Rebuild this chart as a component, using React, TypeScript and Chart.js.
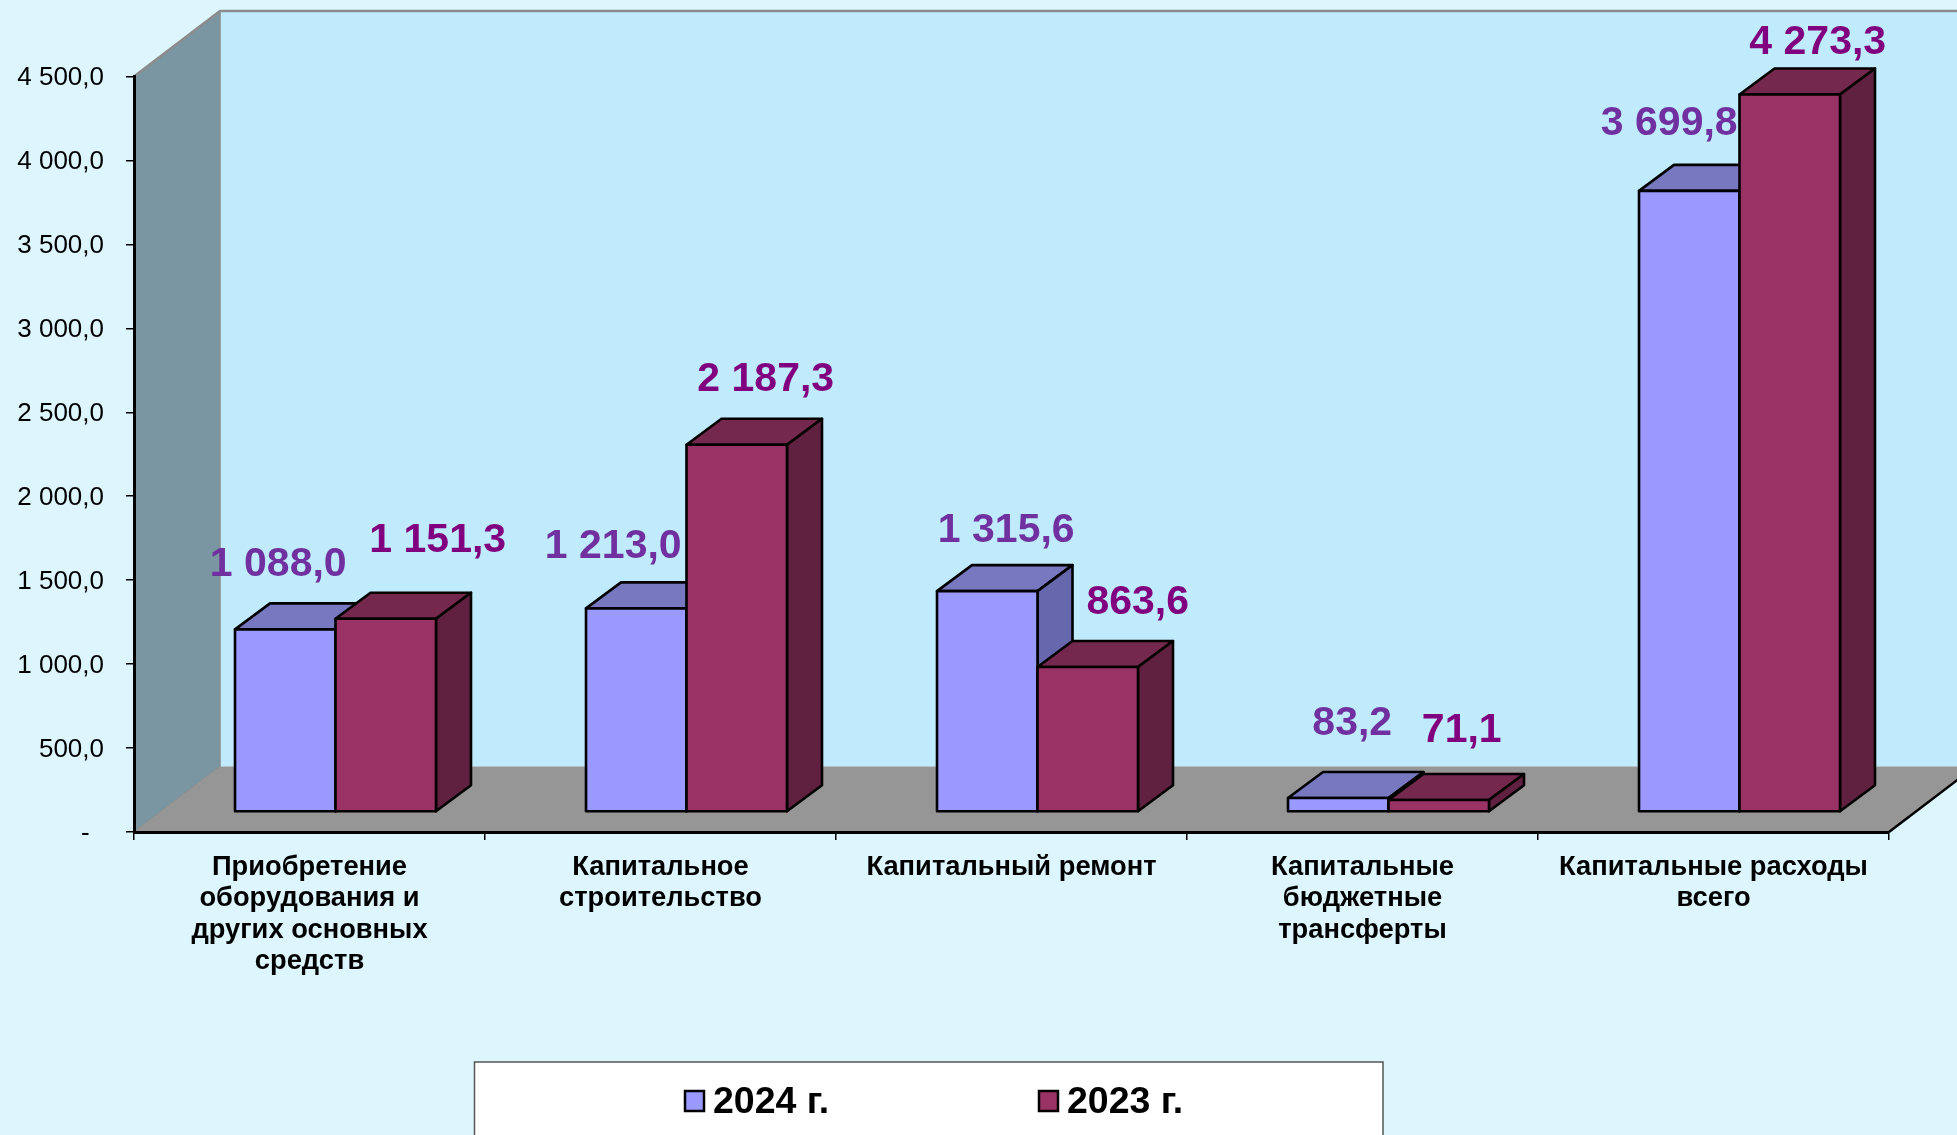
import React, { useEffect, useRef } from "react";
import { Chart, registerables } from "chart.js";

Chart.register(...registerables);

const categories = [
  ["Приобретение", "оборудования и", "других основных", "средств"],
  ["Капитальное", "строительство"],
  ["Капитальный ремонт"],
  ["Капитальные", "бюджетные", "трансферты"],
  ["Капитальные расходы", "всего"],
];
const values2024 = [1088.0, 1213.0, 1315.6, 83.2, 3699.8];
const values2023 = [1151.3, 2187.3, 863.6, 71.1, 4273.3];
const seriesNames = ["2024 г.", "2023 г."];

// Hand-placed label nudges of the original, relative to each bar's top centre.
const labelNudge2024 = [[-7, -65], [-23, -62], [19, -60], [14, -74], [-20, -67]];
const labelNudge2023 = [[52, -78], [29, -65], [50, -64], [23, -69], [28, -52]];

const FONT = '"Liberation Sans", Arial, sans-serif';
const PAGE = "#DDF5FC";
const WALL = "#BFEBFC";
const SIDE_WALL = "#7A96A2";
const FLOOR = "#969696";
const WALL_EDGE = "#8C8C8C";

const styles = [
  { front: "#9999FF", top: "#7878C0", side: "#6767AD", label: "#7030A0", nudge: labelNudge2024 },
  { front: "#993366", top: "#75284D", side: "#602040", label: "#800080", nudge: labelNudge2023 },
];

// 3-D projection of the plot box and of the bars inside it
const DEPTH_X = 86;
const DEPTH_Y = 65.5;
const BAR_SHIFT_X = 26;
const BAR_SHIFT_Y = 20;
const BAR_DEPTH_X = 35;
const BAR_DEPTH_Y = 26;
const EDGE = 2.6;

const fmt = (v: number) => {
  const [a, b] = v.toFixed(1).split(".");
  return a.replace(/\B(?=(\d{3})+$)/g, " ") + "," + b;
};

const poly = (ctx: CanvasRenderingContext2D, pts: number[][], fill: string | null, stroke: string | null, lw = 1) => {
  ctx.beginPath();
  pts.forEach(([x, y], i) => (i ? ctx.lineTo(x, y) : ctx.moveTo(x, y)));
  ctx.closePath();
  if (fill) {
    ctx.fillStyle = fill;
    ctx.fill();
  }
  if (stroke) {
    ctx.strokeStyle = stroke;
    ctx.lineWidth = lw;
    ctx.lineJoin = "round";
    ctx.stroke();
  }
};

const scenePlugin = {
  id: "scene3d",
  beforeDraw(chart: any) {
    const { ctx, chartArea: a, width, height } = chart;
    // y labels sit slightly below their ticks in the original
    chart.scales.y.getLabelItems().forEach((it: any) => {
      if (!it._moved) {
        it.options.translation[1] += 1.5;
        it.options.translation[0] += 1;
        it._moved = true;
      }
    });
    ctx.save();
    ctx.fillStyle = PAGE;
    ctx.fillRect(0, 0, width, height);
    const bx = a.left + DEPTH_X;
    const rx = a.right + DEPTH_X;
    const ty = a.top - DEPTH_Y;
    const by = a.bottom - DEPTH_Y;
    // back wall
    poly(ctx, [[bx, ty], [rx, ty], [rx, by], [bx, by]], WALL, null);
    // side wall
    poly(ctx, [[a.left, a.top], [bx, ty], [bx, by], [a.left, a.bottom]], SIDE_WALL, WALL_EDGE, 1.5);
    // floor
    poly(ctx, [[a.left, a.bottom], [bx, by], [rx, by], [a.right, a.bottom]], FLOOR, null);
    // wall top edge
    ctx.strokeStyle = WALL_EDGE;
    ctx.lineWidth = 2.5;
    ctx.beginPath();
    ctx.moveTo(a.left, a.top);
    ctx.lineTo(bx, ty);
    ctx.lineTo(rx, ty);
    ctx.stroke();
    // right floor edge
    ctx.strokeStyle = "#000";
    ctx.lineWidth = 2.5;
    ctx.beginPath();
    ctx.moveTo(a.right, a.bottom);
    ctx.lineTo(rx, by);
    ctx.stroke();
    ctx.restore();
  },
  beforeDatasetsDraw(chart: any) {
    // left series first, so the right bar overlaps its neighbour's top and side
    const { ctx } = chart;
    chart.data.datasets.forEach((_: any, di: number) => {
      const meta = chart.getDatasetMeta(di);
      const st = styles[di];
      ctx.save();
      ctx.translate(BAR_SHIFT_X, -BAR_SHIFT_Y);
      meta.data.forEach((el: any) => {
        const l = el.x - el.width / 2;
        const r = el.x + el.width / 2;
        const t = el.y;
        const b = el.base;
        poly(ctx, [[l, t], [l + BAR_DEPTH_X, t - BAR_DEPTH_Y], [r + BAR_DEPTH_X, t - BAR_DEPTH_Y], [r, t]], st.top, "#000", EDGE);
        poly(ctx, [[r, t], [r + BAR_DEPTH_X, t - BAR_DEPTH_Y], [r + BAR_DEPTH_X, b - BAR_DEPTH_Y], [r, b]], st.side, "#000", EDGE);
      });
      meta.controller.draw();
      meta.data.forEach((el: any) => {
        const l = el.x - el.width / 2;
        const r = el.x + el.width / 2;
        poly(ctx, [[l, el.y], [r, el.y], [r, el.base], [l, el.base]], null, "#000", EDGE);
      });
      ctx.restore();
    });
  },
  beforeDatasetDraw() {
    return false;
  },
  afterDraw(chart: any) {
    const { ctx, height } = chart;
    ctx.save();
    // value labels
    ctx.font = `bold 41px ${FONT}`;
    ctx.textAlign = "center";
    ctx.textBaseline = "middle";
    chart.data.datasets.forEach((ds: any, di: number) => {
      const st = styles[di];
      ctx.fillStyle = st.label;
      chart.getDatasetMeta(di).data.forEach((el: any, i: number) => {
        const [dx, dy] = st.nudge[i];
        ctx.fillText(fmt(ds.data[i]), el.x + BAR_SHIFT_X + dx, el.y - BAR_SHIFT_Y + dy);
      });
    });
    // legend box, running off the bottom of the page as in the original
    ctx.fillStyle = "#FFFFFF";
    ctx.strokeStyle = "#555555";
    ctx.lineWidth = 1.5;
    ctx.fillRect(474.5, 1062, 908.5, height - 1062 + 5);
    ctx.strokeRect(474.5, 1062, 908.5, height - 1062 + 5);
    const swatchX = [685, 1039];
    chart.data.datasets.forEach((ds: any, di: number) => {
      const x = swatchX[di];
      ctx.fillStyle = styles[di].front;
      ctx.strokeStyle = "#000";
      ctx.lineWidth = 2.5;
      ctx.fillRect(x, 1091, 19, 20);
      ctx.strokeRect(x, 1091, 19, 20);
      ctx.fillStyle = "#000";
      ctx.font = `bold 37.5px ${FONT}`;
      ctx.textAlign = "left";
      ctx.textBaseline = "middle";
      ctx.fillText(ds.label, x + 28, 1103);
    });
    ctx.restore();
  },
};

export default function App() {
  const ref = useRef<HTMLCanvasElement>(null);
  useEffect(() => {
    const chart = new Chart(ref.current as HTMLCanvasElement, {
      type: "bar",
      data: {
        labels: categories as any,
        datasets: [
          {
            label: seriesNames[0],
            data: values2024,
            backgroundColor: styles[0].front,
            borderWidth: 0,
          },
          {
            label: seriesNames[1],
            data: values2023,
            backgroundColor: styles[1].front,
            borderWidth: 0,
          },
        ],
      },
      options: {
        animation: false,
        responsive: false,
        devicePixelRatio: 1,
        layout: { padding: { left: 0, right: 68, top: 76.5, bottom: 0 } },
        datasets: { bar: { barPercentage: 1, categoryPercentage: 0.5726 } },
        plugins: { legend: { display: false }, tooltip: { enabled: false }, title: { display: false } },
        scales: {
          x: {
            afterFit: (s: any) => {
              s.height = 303;
            },
            grid: { display: true, drawOnChartArea: false, drawTicks: true, tickLength: 8, tickColor: "#000", lineWidth: 1.5 },
            border: { color: "#000", width: 3 },
            ticks: {
              autoSkip: false,
              maxRotation: 0,
              minRotation: 0,
              padding: 12,
              color: "#000",
              font: { family: FONT, size: 27.3, weight: "bold", lineHeight: 1.143 },
            },
          },
          y: {
            min: 0,
            max: 4500,
            afterFit: (s: any) => {
              s.width = 134;
            },
            grid: { display: true, drawOnChartArea: false, drawTicks: true, tickLength: 8, tickColor: "#000", lineWidth: 1.5 },
            border: { color: "#000", width: 3 },
            ticks: {
              stepSize: 500,
              padding: 23,
              color: "#000",
              font: { family: FONT, size: 26 },
              callback: (v: any) => (Number(v) === 0 ? "-  " : fmt(Number(v))),
            },
          },
        },
      },
      plugins: [scenePlugin],
    } as any);
    return () => chart.destroy();
  }, []);
  return (
    <div style={{ position: "absolute", left: 0, top: 0, width: 1957, height: 1135, overflow: "hidden" }}>
      <canvas ref={ref} width={1957} height={1135} style={{ display: "block" }} />
    </div>
  );
}
